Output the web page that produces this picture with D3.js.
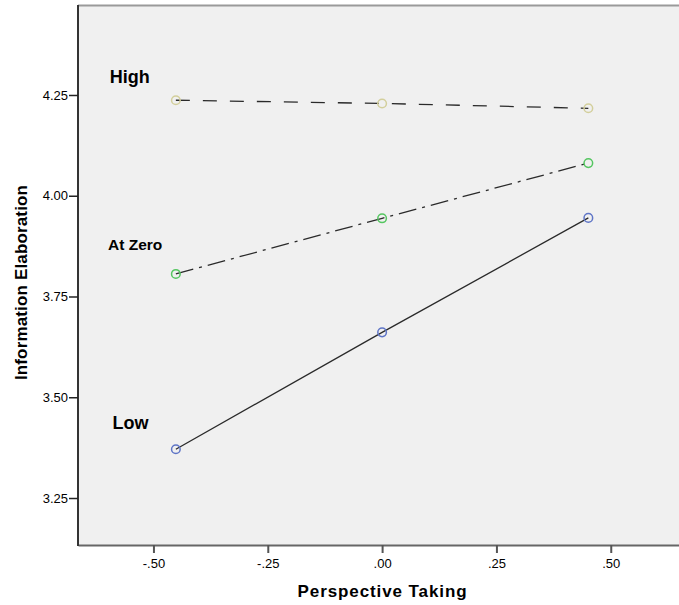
<!DOCTYPE html>
<html>
<head>
<meta charset="utf-8">
<script src="https://cdn.jsdelivr.net/npm/d3@7"></script>
<style>
  html, body { margin: 0; padding: 0; background: #ffffff; }
  svg { display: block; font-family: "Liberation Sans", Arial, sans-serif; }
</style>
</head>
<body>
<svg id="chart" width="679" height="605"></svg>
<script>
// ---- data ----
const xValues = [-0.451, 0.0, 0.451];
const seriesNames = ["High", "At Zero", "Low"];
const highValues = [4.237, 4.229, 4.217];
const atZeroValues = [3.806, 3.944, 4.081];
const lowValues = [3.371, 3.661, 3.945];
const xTicks = [-0.50, -0.25, 0.00, 0.25, 0.50];
const xTickLabels = ["-.50", "-.25", ".00", ".25", ".50"];
const yTicks = [3.25, 3.50, 3.75, 4.00, 4.25];
const yTickLabels = ["3.25", "3.50", "3.75", "4.00", "4.25"];
const labelX = [-0.5956, -0.5993, -0.5897];
const labelY = [4.2798, 3.8654, 3.4205];
const xTitle = "Perspective Taking";
const yTitle = "Information Elaboration";

// ---- styles ----
const markerColors = ["#d3cf9c", "#55c661", "#5f75c6"];
const dashes = ["14,13", "18,6,3,6", null];
const labelSizes = [18, 15.5, 18];

const svg = d3.select("#chart");
const plotLeft = 78, plotTop = 6, plotBottom = 545;

const x = d3.scaleLinear().domain([-0.665, 0.665]).range([plotLeft, plotLeft + 1.33 * 457.3]);
const y = d3.scaleLinear().domain([3.1334, 4.4708]).range([plotBottom, plotTop]);

// plot background
svg.append("rect")
  .attr("x", plotLeft).attr("y", plotTop)
  .attr("width", x.range()[1] - plotLeft).attr("height", plotBottom - plotTop)
  .attr("fill", "#f0f0f0");

// top border
svg.append("line")
  .attr("x1", plotLeft).attr("x2", 679).attr("y1", plotTop - 0.5).attr("y2", plotTop - 0.5)
  .attr("stroke", "#9a9a9a").attr("stroke-width", 2);

// axes
const xAxis = d3.axisBottom(x).tickValues(xTicks)
  .tickFormat((d, i) => xTickLabels[i]).tickSize(8).tickSizeOuter(0).tickPadding(6);
const gx = svg.append("g").attr("transform", `translate(0,${plotBottom})`).call(xAxis);
gx.select(".domain").attr("stroke", "#666").attr("stroke-width", 2);
gx.selectAll(".tick line").attr("stroke", "#555").attr("stroke-width", 2);
gx.selectAll(".tick text").attr("font-size", 13).attr("fill", "#000")
  .attr("font-family", "Liberation Sans, Arial, sans-serif");

const yAxis = d3.axisLeft(y).tickValues(yTicks)
  .tickFormat((d, i) => yTickLabels[i]).tickSize(9).tickSizeOuter(0).tickPadding(1);
const gy = svg.append("g").attr("transform", `translate(${plotLeft},0)`).call(yAxis);
gy.select(".domain").attr("stroke", "#333").attr("stroke-width", 2)
  .attr("d", `M0,${plotTop - 1}V${plotBottom + 1}`);
gy.selectAll(".tick line").attr("stroke", "#222").attr("stroke-width", 1.5);
gy.selectAll(".tick text").attr("font-size", 13).attr("fill", "#000")
  .attr("font-family", "Liberation Sans, Arial, sans-serif");

// series
const seriesData = [highValues, atZeroValues, lowValues];
const line = d3.line().x(d => x(d[0])).y(d => y(d[1]));
seriesData.forEach((vals, i) => {
  const pts = xValues.map((xv, j) => [xv, vals[j]]);
  const p = svg.append("path")
    .attr("d", line(pts))
    .attr("fill", "none")
    .attr("stroke", "#2a2a2a")
    .attr("stroke-width", 1.3);
  if (dashes[i]) p.attr("stroke-dasharray", dashes[i]);
});
seriesData.forEach((vals, i) => {
  svg.append("g").selectAll("circle")
    .data(xValues.map((xv, j) => [xv, vals[j]]))
    .join("circle")
    .attr("cx", d => x(d[0])).attr("cy", d => y(d[1]))
    .attr("r", 4.3)
    .attr("fill", "none")
    .attr("stroke", markerColors[i])
    .attr("stroke-width", 1.5);
});

// series labels
seriesNames.forEach((name, i) => {
  svg.append("text")
    .attr("x", x(labelX[i])).attr("y", y(labelY[i]))
    .attr("font-size", labelSizes[i]).attr("font-weight", "bold")
    .attr("fill", "#000")
    .text(name);
});

// axis titles
svg.append("text")
  .attr("x", 382.5).attr("y", 597)
  .attr("text-anchor", "middle")
  .attr("font-size", 17).attr("font-weight", "bold")
  .attr("letter-spacing", "0.9px")
  .text(xTitle);

svg.append("text")
  .attr("transform", "translate(27,282.5) rotate(-90)")
  .attr("text-anchor", "middle")
  .attr("font-size", 17).attr("font-weight", "bold")
  .attr("letter-spacing", "0.15px")
  .text(yTitle);
</script>
</body>
</html>
